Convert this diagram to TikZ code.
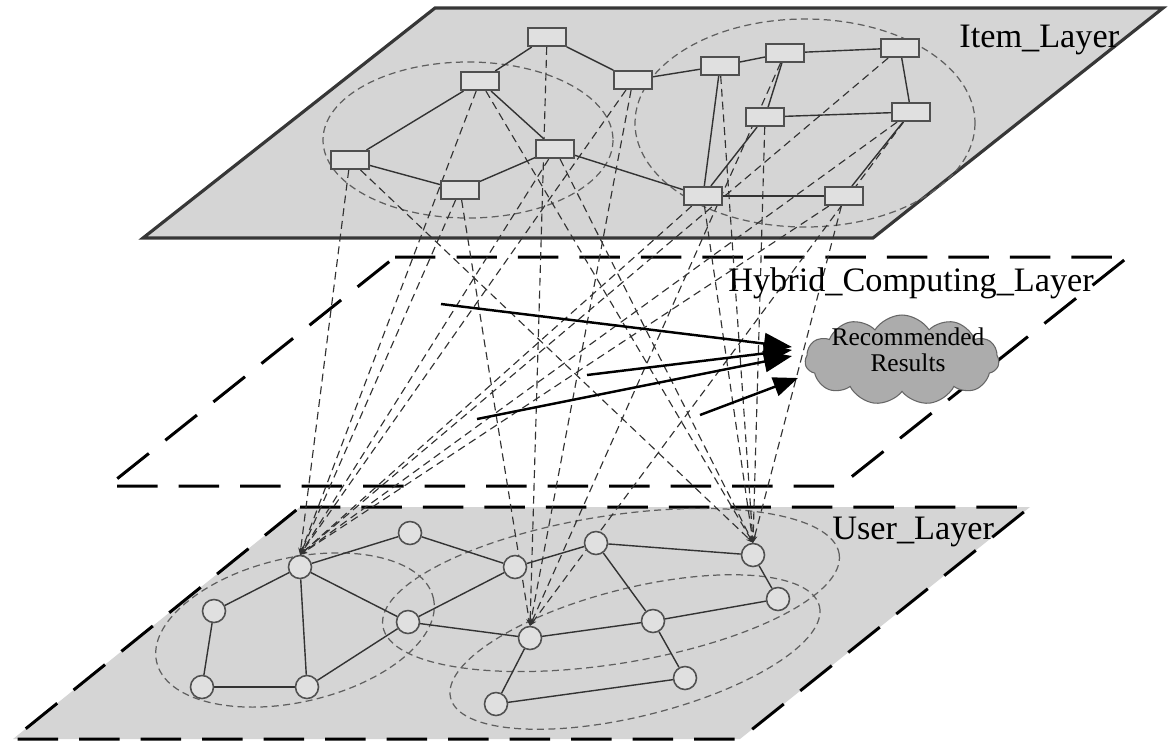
\documentclass[tikz,border=0pt]{standalone}
\usepackage{fontspec}
\setmainfont{Liberation Serif}
\usetikzlibrary{arrows.meta,shapes.symbols}
\definecolor{planefill}{RGB}{213,213,213}
\definecolor{boxfill}{RGB}{224,224,224}
\definecolor{boxline}{RGB}{80,80,80}
\definecolor{linkc}{RGB}{50,50,50}
\definecolor{ellc}{RGB}{95,95,95}
\definecolor{cloudfill}{RGB}{172,172,172}
\definecolor{itemedge}{RGB}{55,55,55}
\pgfdeclarelayer{bg}
\pgfsetlayers{bg,main}
\begin{document}
\begin{tikzpicture}[x=0.02cm,y=-0.02cm,
  itembox/.style={rectangle, draw=boxline, fill=boxfill, line width=0.9pt, minimum width=0.76cm, minimum height=0.37cm, inner sep=0pt},
  usernode/.style={circle, draw=boxline, fill=boxfill, line width=0.9pt, minimum size=0.46cm, inner sep=0pt},
  tie/.style={draw=black!80, line width=0.8pt},
  link/.style={draw=linkc, line width=0.65pt, dash pattern=on 4.5pt off 2.8pt, -{Stealth[length=4pt,width=3pt]}},
  group/.style={draw=ellc, line width=0.7pt, dash pattern=on 4pt off 2.5pt},
  itemplane/.style={draw=itemedge, line width=1.8pt, line join=miter},
  dplane/.style={draw=black, line width=1.7pt, line join=miter, dash pattern=on 23pt off 12pt},
  flow/.style={line width=1.4pt, -{Triangle[length=16pt,width=12pt]}},
  lbl/.style={font=\fontsize{19.5}{22}\selectfont, inner sep=0pt, anchor=base west}
]
\useasboundingbox (0,0) rectangle (1169,752);
% item nodes
\node[itembox] (A) at (547,37) {};
\node[itembox] (B) at (480,81) {};
\node[itembox] (C) at (350,160) {};
\node[itembox] (D) at (460,190) {};
\node[itembox] (E) at (555,149) {};
\node[itembox] (F) at (633,80) {};
\node[itembox] (G) at (720,66) {};
\node[itembox] (H) at (785,53) {};
\node[itembox] (I) at (900,48) {};
\node[itembox] (J) at (765,117) {};
\node[itembox] (K) at (911,112) {};
\node[itembox] (L) at (703,196) {};
\node[itembox] (M) at (844,196) {};
% user nodes
\node[usernode] (u1) at (300,567) {};
\node[usernode] (u2) at (410,533) {};
\node[usernode] (u3) at (214,611) {};
\node[usernode] (u4) at (202,687) {};
\node[usernode] (u5) at (307,687) {};
\node[usernode] (u6) at (408,622) {};
\node[usernode] (u7) at (515,567) {};
\node[usernode] (u8) at (596,543) {};
\node[usernode] (u9) at (753,555) {};
\node[usernode] (u10) at (778,599) {};
\node[usernode] (u11) at (653,621) {};
\node[usernode] (u12) at (530,638) {};
\node[usernode] (u13) at (685,678) {};
\node[usernode] (u14) at (496,704) {};
\begin{pgfonlayer}{bg}
% planes
\fill[planefill] (435,8) -- (1163,8) -- (873,238) -- (143,238) -- cycle;
\draw[itemplane] (435,8) -- (1163,8) -- (873,238) -- (143,238) -- cycle;
\draw[dplane] (395,257) -- (1128,257) -- (840,486) -- (108,486) -- cycle;
\fill[planefill] (300,507) -- (1030,507) -- (740,739) -- (13,739) -- cycle;
\draw[dplane] (300,507) -- (1030,507) -- (740,739) -- (13,739) -- cycle;
% group ellipses
\draw[group] (468,140) ellipse [x radius=145, y radius=78];
\draw[group] (805,123) ellipse [x radius=170, y radius=104];
\draw[group, rotate around={13:(295,630)}] (295,630) ellipse [x radius=142, y radius=72];
\draw[group, rotate around={9:(611,590)}] (611,590) ellipse [x radius=231, y radius=74];
\draw[group, rotate around={14:(635,652)}] (635,652) ellipse [x radius=190, y radius=64];
% item edges
\draw[tie] (A) -- (B);
\draw[tie] (A) -- (F);
\draw[tie] (B) -- (C);
\draw[tie] (B) -- (E);
\draw[tie] (C) -- (D);
\draw[tie] (D) -- (E);
\draw[tie] (E) -- (L);
\draw[tie] (F) -- (G);
\draw[tie] (G) -- (H);
\draw[tie] (H) -- (I);
\draw[tie] (H) -- (J);
\draw[tie] (G) -- (L);
\draw[tie] (I) -- (K);
\draw[tie] (J) -- (K);
\draw[tie] (L) -- (M);
\draw[tie] (J) -- (L);
\draw[tie] (K) -- (M);
% user edges
\draw[tie] (u1) -- (u2);
\draw[tie] (u1) -- (u3);
\draw[tie] (u1) -- (u5);
\draw[tie] (u1) -- (u6);
\draw[tie] (u3) -- (u4);
\draw[tie] (u4) -- (u5);
\draw[tie] (u5) -- (u6);
\draw[tie] (u2) -- (u7);
\draw[tie] (u6) -- (u7);
\draw[tie] (u6) -- (u12);
\draw[tie] (u7) -- (u8);
\draw[tie] (u8) -- (u9);
\draw[tie] (u8) -- (u11);
\draw[tie] (u9) -- (u10);
\draw[tie] (u11) -- (u10);
\draw[tie] (u12) -- (u11);
\draw[tie] (u11) -- (u13);
\draw[tie] (u12) -- (u14);
\draw[tie] (u14) -- (u13);
% links item -> user
\foreach \s in {C,B,D,E,F,L,M,I,K} \draw[link] (\s) -- (u1.north);
\foreach \s in {A,D,F,H,K} \draw[link] (\s) -- (u12.north);
\foreach \s in {C,B,E,G,J,L,M} \draw[link] (\s) -- (u9.north);
\end{pgfonlayer}
% cloud
\node[cloud, cloud puffs=11, cloud puff arc=115, aspect=2.2, draw=black!60, fill=cloudfill, line width=0.6pt, minimum width=3.88cm, minimum height=1.8cm, inner sep=0pt] (cloud) at (902,360) {};
\node[font=\fontsize{14.5}{15}\selectfont, align=center, inner sep=0pt] (cloudtxt) at (908,350) {Recommended\\Results};
% flows
\coordinate (a1s) at (441,304); \coordinate (a1e) at (792,347);
\coordinate (a2s) at (587,375); \coordinate (a2e) at (792,350);
\coordinate (a3s) at (477,419); \coordinate (a3e) at (792,356);
\coordinate (a4s) at (700,415); \coordinate (a4e) at (798,378);
\draw[flow] (a1s) -- (a1e);
\draw[flow] (a2s) -- (a2e);
\draw[flow] (a3s) -- (a3e);
\draw[line width=1.4pt, -{Triangle[length=14pt,width=11pt]}] (a4s) -- (a4e);
% labels
\node[lbl] (itemlbl) at (959,47) {Item\_Layer};
\node[lbl] (hyblbl) at (728,291) {Hybrid\_Computing\_Layer};
\node[lbl] (userlbl) at (832,539) {User\_Layer};
\end{tikzpicture}
\end{document}
